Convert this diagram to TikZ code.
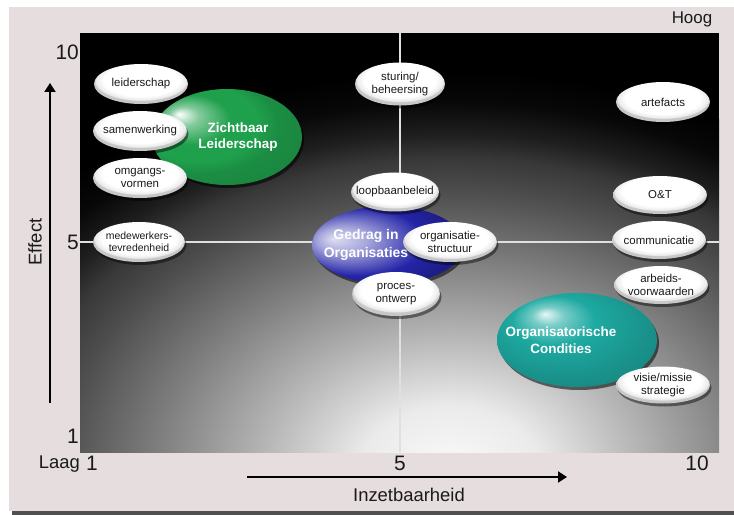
\documentclass[tikz,border=0pt]{standalone}
\usepackage{fontspec}
\setmainfont{Liberation Sans}
\usepackage{xcolor}
\usepackage{tikz}
\usetikzlibrary{
  arrows.meta,
  shapes.geometric,
  shadows,
  positioning
}
\definecolor{ipPanel}{HTML}{E6DDDE}
\definecolor{ipShadow}{HTML}{505050}
\definecolor{ipGreen}{HTML}{1FA04C}
\definecolor{ipBlue}{HTML}{2424A8}
\definecolor{ipTeal}{HTML}{1DA9A1}
\definecolor{ipText}{HTML}{1A1A1A}
\pgfdeclareradialshading{plotglow}{\pgfpointorigin}{color(0bp)=(black!2); color(4bp)=(black!8); color(8bp)=(black!27); color(13bp)=(black!50); color(17.5bp)=(black!70); color(19.5bp)=(black!78); color(21bp)=(black!88); color(23bp)=(black!97); color(25bp)=(black); color(50bp)=(black)}
\pgfdeclareradialshading{whiteglow}{\pgfpoint{0bp}{8bp}}{color(0bp)=(white); color(20bp)=(white); color(24bp)=(black!8); color(25bp)=(black!22); color(50bp)=(black!22)}
\pgfdeclareradialshading{greenglow}{\pgfpoint{-16bp}{12bp}}{color(0bp)=(white); color(5bp)=(ipGreen!55!white); color(13bp)=(ipGreen); color(20bp)=(ipGreen); color(25bp)=(ipGreen!88!black); color(50bp)=(ipGreen!75!black)}
\pgfdeclareradialshading{blueglow}{\pgfpoint{-18bp}{4bp}}{color(0bp)=(ipBlue!15!white); color(8bp)=(ipBlue!40!white); color(22bp)=(ipBlue); color(30bp)=(ipBlue!80!black); color(50bp)=(ipBlue!65!black)}
\pgfdeclareradialshading{tealglow}{\pgfpoint{-10bp}{14bp}}{color(0bp)=(white!90!ipTeal); color(5bp)=(ipTeal!60!white); color(13bp)=(ipTeal); color(28bp)=(ipTeal!85!black); color(50bp)=(ipTeal!70!black)}
\tikzset{
  bubble/.style={
    ellipse, shade, shading=whiteglow, minimum width=94bp, minimum height=40bp,
    inner xsep=-8bp, inner ysep=-4bp, align=center, text=ipText,
    font=\fontsize{11.5}{13}\selectfont,
    drop shadow={shadow xshift=1.5bp, shadow yshift=-3bp, opacity=0.45, fill=black}
  },
  keybubble/.style={
    ellipse, shade,
    drop shadow={shadow xshift=2bp, shadow yshift=-3bp, opacity=0.55, fill=black}
  },
  keytitle/.style={align=center, text=white, inner sep=0pt, font=\fontsize{13.5}{17}\selectfont\bfseries},
  ticklabel/.style={font=\fontsize{21}{21}\selectfont, text=ipText, inner sep=0pt},
  axislabel/.style={font=\fontsize{18.5}{19}\selectfont, text=ipText, inner sep=0pt},
  axisarrow/.style={-{Triangle[length=9bp, width=11bp]}, line width=2bp, black},
  gridline/.style={white!88!black, line width=1.2bp}
}
\begin{document}
\begin{tikzpicture}[x=1bp, y=-1bp]
  \useasboundingbox (0,0) rectangle (734,515);
  \fill[white] (0,0) rectangle (734,515);
  \fill[ipShadow] (12,10) rectangle (734,515);
  \fill[ipPanel] (9,7) rectangle (734,511);

  % plot field
  \coordinate (plotnw) at (80,33);
  \coordinate (plotse) at (719,452);
  \begin{scope}
    \clip (plotnw) rectangle (plotse);
    \fill[black] (plotnw) rectangle (plotse);
    \shade[shading=plotglow] (450,470) ellipse [x radius=560, y radius=400];
  \end{scope}
  \coordinate (midtop) at (400,33);
  \coordinate (midbottom) at (400,452);
  \coordinate (midleft) at (80,242);
  \coordinate (midright) at (719,242);
  \draw[gridline] (midtop) -- (midbottom);
  \draw[gridline] (midleft) -- (midright);

  % clusters
  \node[keybubble, shading=greenglow, minimum width=150bp, minimum height=96bp] (zichtbaar) at (227,137) {};
  \node[keytitle] (zichtbaartitle) at ([xshift=11bp]zichtbaar.center) {Zichtbaar\\Leiderschap};
  \node[keybubble, shading=blueglow, minimum width=152bp, minimum height=78bp] (gedrag) at (388,245) {};
  \node[keytitle, font=\fontsize{14}{18}\selectfont\bfseries] (gedragtitle) at ([xshift=-22bp]gedrag.center) {Gedrag in\\Organisaties};
  \node[keybubble, shading=tealglow, minimum width=160bp, minimum height=94bp] (condities) at (577,340) {};
  \node[keytitle] (conditiestitle) at ([xshift=-16bp]condities.center) {Organisatorische\\Condities};

  % factors
  \node[bubble] (leiderschap) at (141,84) {leiderschap};
  \node[bubble] (samenwerking) at (140,131) {samenwerking};
  \node[bubble] (omgangsvormen) at (140,178) {omgangs-\\vormen};
  \node[bubble, minimum width=92bp, font=\fontsize{10.5}{12.5}\selectfont] (tevredenheid) at (139,242) {medewerkers-\\tevredenheid};
  \node[bubble, minimum width=90bp, minimum height=43bp] (sturing) at (400,84) {sturing/\\beheersing};
  \node[bubble, minimum width=88bp, minimum height=39bp] (loopbaan) at (395,192) {loopbaanbeleid};
  \node[bubble] (structuur) at (450,242) {organisatie-\\structuur};
  \node[bubble, minimum width=88bp, minimum height=44bp] (procesontwerp) at (396,294) {proces-\\ontwerp};
  \node[bubble] (artefacts) at (663,102) {artefacts};
  \node[bubble, minimum height=38bp] (ot) at (660,195) {O\&T};
  \node[bubble, minimum height=38bp] (communicatie) at (659,240) {communicatie};
  \node[bubble, minimum height=38bp] (arbeid) at (661,285) {arbeids-\\voorwaarden};
  \node[bubble, minimum height=37bp] (visie) at (663,385) {visie/missie\\strategie};

  % scales
  \node[ticklabel, anchor=base east] (ytop) at (79,60) {10};
  \node[ticklabel, anchor=base east] (ymid) at (79,250) {5};
  \node[ticklabel, anchor=base east] (ylow) at (79,443) {1};
  \node[axislabel, anchor=base east] (laag) at (80,468) {Laag};
  \node[ticklabel, anchor=base] (xlow) at (92,470) {1};
  \node[ticklabel, anchor=base] (xmid) at (400,470) {5};
  \node[ticklabel, anchor=base] (xtop) at (697,470) {10};
  \node[axislabel, font=\fontsize{17}{18}\selectfont, anchor=base] (hoog) at (692,24) {Hoog};

  \coordinate (effectfoot) at (50,403);
  \coordinate (effecttip) at (50,83);
  \draw[axisarrow] (effectfoot) -- (effecttip);
  \node[axislabel, rotate=90] (effect) at (35,242) {Effect};
  \coordinate (inzetfoot) at (247,477);
  \coordinate (inzettip) at (567,477);
  \draw[axisarrow] (inzetfoot) -- (inzettip);
  \node[axislabel, anchor=base] (inzet) at (409,501) {Inzetbaarheid};
\end{tikzpicture}
\end{document}
